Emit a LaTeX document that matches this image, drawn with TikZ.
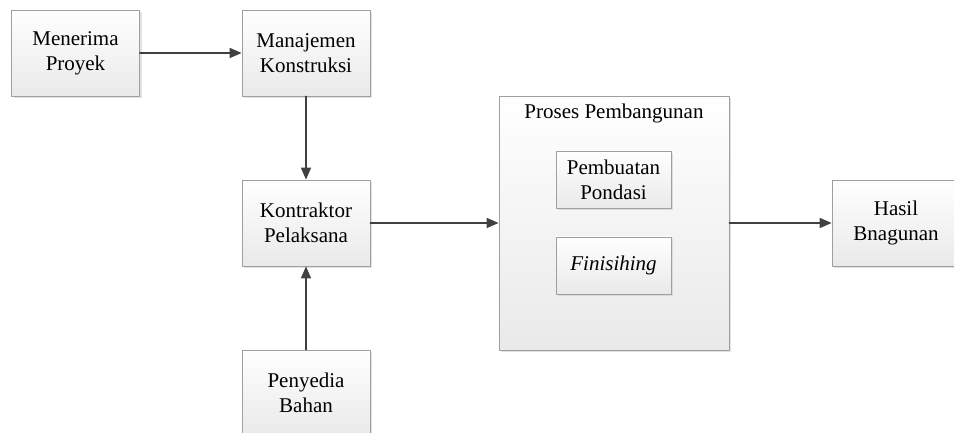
\documentclass[tikz,border=0pt]{standalone}
\usepackage{fontspec}
\setmainfont{Liberation Serif}
\usetikzlibrary{arrows.meta,shadows}

\begin{document}
\begin{tikzpicture}[line join=round, line cap=round,>={Triangle[length=12pt,width=10pt]},x=1pt,y=1pt]
\tikzset{every node/.style={font=\fontsize{21}{25}\selectfont},
  kotak/.style={draw=gray!75,line width=0.8pt,top color=white,bottom color=gray!17,align=center,
    minimum width=128pt,minimum height=86pt,drop shadow={shadow xshift=2pt,shadow yshift=-2pt,fill=gray!45}},
  kotakkecil/.style={kotak,minimum width=115pt,minimum height=57pt},
  panah/.style={->,draw=black!75,line width=1.6pt}}
\useasboundingbox (0,0) rectangle (954,433);
\node[kotak] (menerima) at (75.5,380) {Menerima\\Proyek};
\node[kotak] (manajemen) at (306,380) {Manajemen\\Konstruksi};
\node[kotak] (kontraktor) at (306,210) {Kontraktor\\Pelaksana};
\node[kotak] (penyedia) at (306,40) {Penyedia\\Bahan};
\node[kotak,minimum width=230pt,minimum height=254pt] (proses) at (614,210) {};
\node (judul) at (614,320) {Proses Pembangunan};
\node[kotakkecil] (pondasi) at (613.5,253.5) {Pembuatan\\Pondasi};
\node[kotakkecil] (finishing) at (613.5,167.5) {\textit{Finisihing}};
\node[kotak] (hasil) at (896,210) {Hasil\\Bnagunan};
\draw[panah] (menerima)--(manajemen);
\draw[panah] (manajemen)--(kontraktor);
\draw[panah] (penyedia)--(kontraktor);
\draw[panah] (kontraktor)--(proses);
\draw[panah] (proses)--(hasil);
\end{tikzpicture}
\end{document}
